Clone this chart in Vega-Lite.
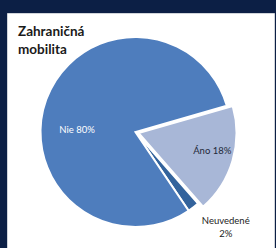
{
  "$schema": "https://vega.github.io/schema/vega-lite/v6.json",
  "padding": {"left": 6, "top": 12, "right": 3, "bottom": 0},
  "background": "#0c1f45",
  "data": {
    "values": [
      {"category": "Áno", "value": 18, "order": 1, "label": "Áno 18%"},
      {"category": "Neuvedené", "value": 2, "order": 2, "label": "Neuvedené\n2%"},
      {"category": "Nie", "value": 80, "order": 3, "label": "Nie 80%"}
    ]
  },
  "vconcat": [
    {
      "width": 267,
      "height": 236,
      "view": {"fill": "white", "stroke": "#d0d4da", "strokeWidth": 1, "cursor": "default"},
      "title": {
        "text": ["Zahraničná", "mobilita"],
        "anchor": "start",
        "frame": "group",
        "orient": "top",
        "baseline": "top",
        "offset": -43,
        "dx": 11,
        "font": "Lato",
        "fontSize": 13.5,
        "fontWeight": "bold",
        "color": "#1a1a1a",
        "lineHeight": 18
      },
      "encoding": {
        "theta": {"field": "value", "type": "quantitative", "stack": true, "scale": {"range": [1.2915, 7.5747]}},
        "order": {"field": "order", "type": "quantitative"}
      },
      "layer": [
        {
          "mark": {"type": "arc", "outerRadius": 95, "stroke": "white", "strokeWidth": 2, "xOffset": -5, "yOffset": 1},
          "encoding": {
            "color": {"field": "category", "type": "nominal", "scale": {"domain": ["Áno", "Neuvedené", "Nie"], "range": ["#a8b7d7", "#33639c", "#4e7dbd"]}, "legend": null},
            "opacity": {"condition": {"test": "datum.category === 'Áno'", "value": 0}, "value": 1}
          }
        },
        {
          "mark": {"type": "arc", "outerRadius": 98, "stroke": "white", "strokeWidth": 2, "xOffset": -2, "yOffset": 2},
          "encoding": {
            "color": {"field": "category", "type": "nominal", "legend": null},
            "opacity": {"condition": {"test": "datum.category === 'Áno'", "value": 1}, "value": 0}
          }
        },
        {
          "mark": {"type": "text", "radius": 58, "dx": -9, "dy": 19, "font": "Lato", "fontSize": 9.5, "fill": "white"},
          "encoding": {
            "detail": {"field": "category", "type": "nominal"},
            "text": {"condition": {"test": "datum.category === 'Nie'", "field": "label"}, "value": ""}
          }
        },
        {
          "mark": {"type": "text", "radius": 79, "dx": -4, "dy": -2, "font": "Lato", "fontSize": 9.5, "fill": "#1f2a3a"},
          "encoding": {
            "detail": {"field": "category", "type": "nominal"},
            "text": {"condition": {"test": "datum.category === 'Áno'", "field": "label"}, "value": ""}
          }
        },
        {
          "mark": {"type": "text", "radius": 120, "dx": 12, "dy": -5, "font": "Lato", "fontSize": 9.5, "fill": "#222222", "lineBreak": "\n", "lineHeight": 13},
          "encoding": {
            "detail": {"field": "category", "type": "nominal"},
            "text": {"condition": {"test": "datum.category === 'Neuvedené'", "field": "label"}, "value": ""}
          }
        }
      ]
    }
  ]
}
